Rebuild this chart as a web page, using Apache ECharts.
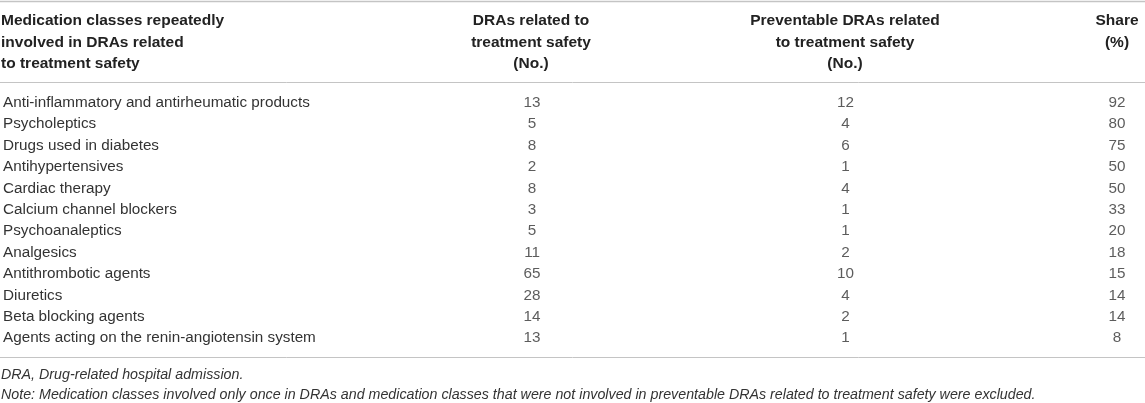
<!DOCTYPE html>
<html>
<head>
<meta charset="utf-8">
<script src="https://cdn.jsdelivr.net/npm/echarts@6.0.0/dist/echarts.min.js"></script>
<style>
  html, body { margin: 0; padding: 0; background: #fff; }
  #main { width: 1145px; height: 403px; }
</style>
</head>
<body>
<div id="main"></div>
<script>
var chart = echarts.init(document.getElementById('main'));

// table data
const classes = [
  'Anti-inflammatory and antirheumatic products',
  'Psycholeptics',
  'Drugs used in diabetes',
  'Antihypertensives',
  'Cardiac therapy',
  'Calcium channel blockers',
  'Psychoanaleptics',
  'Analgesics',
  'Antithrombotic agents',
  'Diuretics',
  'Beta blocking agents',
  'Agents acting on the renin-angiotensin system'
];
const drasSafety = [13, 5, 8, 2, 8, 3, 5, 11, 65, 28, 14, 13];
const preventable = [12, 4, 6, 1, 4, 1, 1, 2, 10, 4, 2, 1];
const share = [92, 80, 75, 50, 50, 33, 20, 18, 15, 14, 14, 8];

const headers = [
  'Medication classes repeatedly\ninvolved in DRAs related\nto treatment safety',
  'DRAs related to\ntreatment safety\n(No.)',
  'Preventable DRAs related\nto treatment safety\n(No.)',
  'Share\n(%)'
];
const notes = [
  'DRA, Drug-related hospital admission.',
  'Note: Medication classes involved only once in DRAs and medication classes that were not involved in preventable DRAs related to treatment safety were excluded.'
];

const FONT = '"Liberation Sans", Arial, sans-serif';
const TEXT = '#333';
const HEAD = '#222';
const RULE = '#c4c4c4';
const colX = [531, 845, 1117];

function cellSeries(values, x) {
  return {
    type: 'scatter',
    symbolSize: 1,
    itemStyle: { color: 'rgba(0,0,0,0)' },
    silent: true,
    data: values.map((v, i) => [x, i, v]),
    label: {
      show: true,
      position: 'inside',
      align: 'center',
      formatter: (p) => String(p.data[2]),
      color: TEXT,
      fontSize: 15.25,
      fontFamily: FONT
    }
  };
}

function headerText(text, x, align) {
  return {
    type: 'text',
    style: {
      text: text,
      x: x,
      y: 10,
      align: align,
      verticalAlign: 'top',
      fill: HEAD,
      font: 'bold 15.5px ' + FONT,
      lineHeight: 21.5
    }
  };
}

function rule(y, w) {
  return {
    type: 'line',
    shape: { x1: 0, y1: y, x2: 1145, y2: y },
    style: { stroke: RULE, lineWidth: w || 1 }
  };
}

function note(text, y) {
  return {
    type: 'text',
    style: { text: text, x: 1, y: y, verticalAlign: 'middle', fill: TEXT, font: 'italic 14.25px ' + FONT }
  };
}

const option = {
  animation: false,
  grid: { left: 0, right: 0, top: 92, height: 257 },
  xAxis: { type: 'value', min: 0, max: 1145, show: false },
  yAxis: {
    type: 'category',
    inverse: true,
    data: classes,
    axisLine: { show: false },
    axisTick: { show: false },
    splitLine: { show: false },
    axisLabel: {
      inside: true,
      interval: 0,
      margin: 1,
      align: 'left',
      color: TEXT,
      fontSize: 15.25,
      fontFamily: FONT
    }
  },
  series: [
    cellSeries(drasSafety, colX[0]),
    cellSeries(preventable, colX[1]),
    cellSeries(share, colX[2])
  ],
  graphic: [
    rule(1.5, 1.5),
    rule(82.5),
    rule(357.5),
    headerText(headers[0], 1, 'left'),
    headerText(headers[1], colX[0], 'center'),
    headerText(headers[2], colX[1], 'center'),
    headerText(headers[3], colX[2], 'center'),
    note(notes[0], 375),
    note(notes[1], 395)
  ]
};

chart.setOption(option);
</script>
</body>
</html>
